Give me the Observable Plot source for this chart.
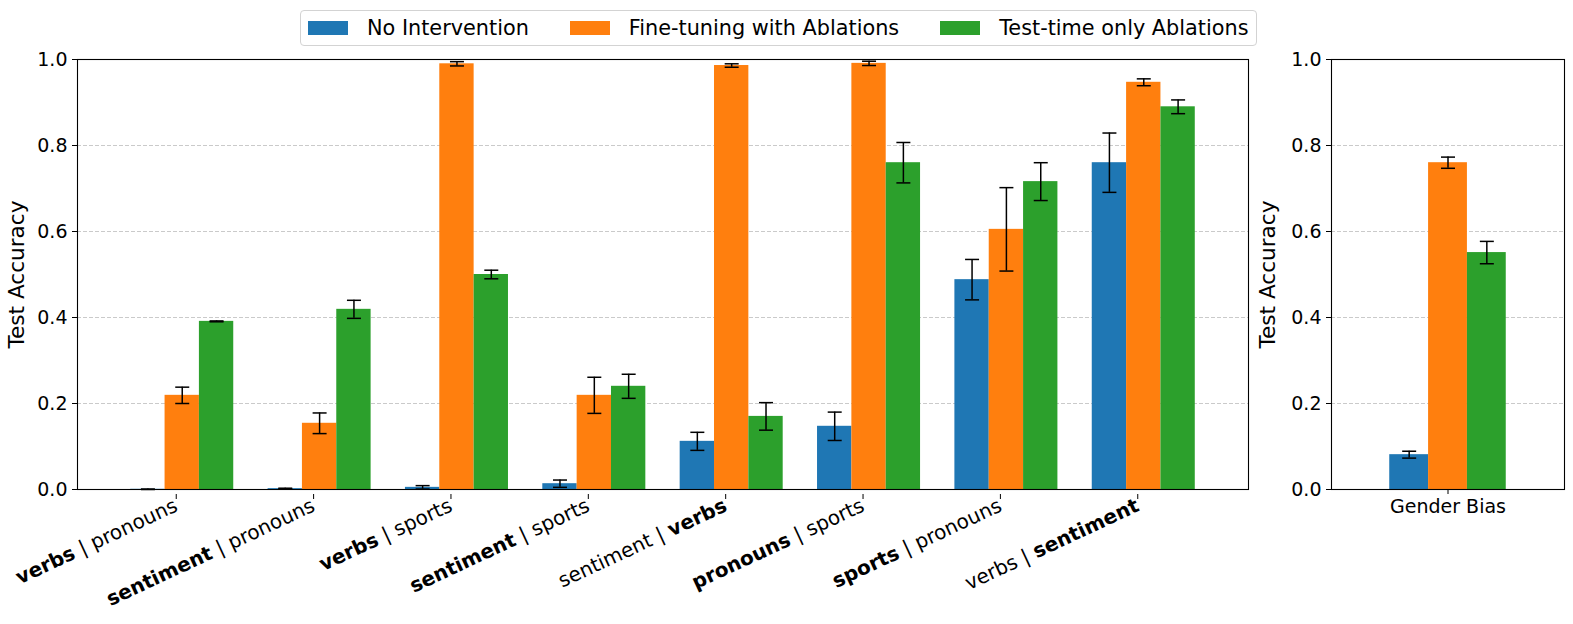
<!DOCTYPE html>
<html><head><meta charset="utf-8">
<script src="https://cdn.jsdelivr.net/npm/d3@7"></script>
<script src="https://cdn.jsdelivr.net/npm/@observablehq/plot@0.6"></script>
<style>
body{margin:0;background:#fff;font-family:"DejaVu Sans",sans-serif;}
#fig{position:relative;width:1573px;height:624px;overflow:hidden;background:#fff}
#legend{position:absolute;left:300px;top:10px;height:36px;box-sizing:border-box;border:1px solid #d3d3d3;border-radius:4px;display:flex;align-items:center;padding:0 8px 0 7px;font-size:20.8px;background:#fff;z-index:2;color:#000}
.item{display:flex;align-items:center;white-space:nowrap}
.item + .item{margin-left:41px}
.sw{width:40px;height:14px;margin-right:19px}
#left{position:absolute;left:0;top:0}
#right{position:absolute;left:1260px;top:0}
svg{font-family:"DejaVu Sans",sans-serif;overflow:visible}
</style></head><body><div id="fig"><div id="legend"></div><div id="left"></div><div id="right"></div></div>
<script>
// ---- data ----
const categories = ["verbs | pronouns", "sentiment | pronouns", "verbs | sports", "sentiment | sports", "sentiment | verbs", "pronouns | sports", "sports | pronouns", "verbs | sentiment"];
const boldPart = [0, 0, 0, 0, 1, 0, 0, 1];
const seriesNames = ["No Intervention", "Fine-tuning with Ablations", "Test-time only Ablations"];
const noIntervention    = [0.0005, 0.002, 0.005, 0.0135, 0.112, 0.147, 0.488, 0.760];
const noInterventionErr = [0.0005, 0.001, 0.004, 0.0085, 0.021, 0.033, 0.047, 0.069];
const fineTuning        = [0.219, 0.154, 0.990, 0.219, 0.986, 0.991, 0.605, 0.947];
const fineTuningErr     = [0.019, 0.024, 0.005, 0.042, 0.004, 0.005, 0.097, 0.008];
const testTime          = [0.391, 0.419, 0.500, 0.240, 0.170, 0.760, 0.716, 0.890];
const testTimeErr       = [0.001, 0.021, 0.010, 0.028, 0.032, 0.047, 0.044, 0.016];
const biasCategories = ["Gender Bias"];
const biasValues = [0.081, 0.760, 0.551];
const biasErr    = [0.008, 0.013, 0.026];
const yTicks = [0, 0.2, 0.4, 0.6, 0.8, 1.0];
const colors = ["#1f77b4", "#ff7f0e", "#2ca02c"];

// ---- build rows ----
const W = 0.25;
const allVals = [noIntervention, fineTuning, testTime];
const allErrs = [noInterventionErr, fineTuningErr, testTimeErr];
const rows = [];
categories.forEach((c, i) => seriesNames.forEach((s, k) => {
  rows.push({cat: c, i, series: s, k, value: allVals[k][i], err: allErrs[k][i]});
}));
const biasRows = seriesNames.map((s, k) => ({cat: biasCategories[0], i: 0, series: s, k, value: biasValues[k], err: biasErr[k]}));
const cx = d => d.i + (d.k - 1) * W;
const capSymbol = {draw(ctx, size) { const r = Math.sqrt(size / Math.PI); ctx.moveTo(-r, 0); ctx.lineTo(r, 0); }};

function marks(data, xTicks, xFormat, rotate, labelOffset) {
  const xAxisOpts = rotate
    ? {ticks: xTicks, tickFormat: xFormat, tickSize: 5, tickPadding: 5, fontSize: 20, tickRotate: rotate, dx: -6, dy: 5, label: null}
    : {ticks: xTicks, tickFormat: xFormat, tickSize: 5, tickPadding: 5, fontSize: 19, label: null};
  return [
    Plot.gridY({ticks: yTicks.slice(1, -1), stroke: "#b0b0b0", strokeOpacity: 0.75, strokeDasharray: "4,2", strokeWidth: 0.9}),
    Plot.rectY(data, {x1: d => cx(d) - W / 2, x2: d => cx(d) + W / 2, y: "value", fill: "series"}),
    Plot.ruleX(data, {x: cx, y1: d => d.value - d.err, y2: d => d.value + d.err, stroke: "black", strokeWidth: 1.5}),
    Plot.dot(data, {x: cx, y: d => d.value - d.err, symbol: capSymbol, r: 7, stroke: "black", strokeWidth: 1.5, fill: "none"}),
    Plot.dot(data, {x: cx, y: d => d.value + d.err, symbol: capSymbol, r: 7, stroke: "black", strokeWidth: 1.5, fill: "none"}),
    Plot.frame({stroke: "black", strokeWidth: 1.1}),
    Plot.axisY({ticks: yTicks, tickFormat: d3.format(".1f"), tickSize: 5, tickPadding: 5, fontSize: 19, label: null}),
    Plot.axisY({ticks: [], tickSize: 0, fontSize: 21.6, label: "Test Accuracy", labelAnchor: "center", labelArrow: "none", labelOffset}),
    Plot.axisX(xAxisOpts)
  ];
}

const common = {
  height: 624, marginTop: 59, marginBottom: 135,
  y: {domain: [0, 1]},
  color: {domain: seriesNames, range: colors},
  style: {fontFamily: "DejaVu Sans", color: "black", background: "white", overflow: "visible"}
};

const left = Plot.plot({
  ...common, width: 1260, marginLeft: 77, marginRight: 12,
  x: {type: "linear", domain: [-0.7625, 7.7625]},
  marks: marks(rows, categories.map((_, i) => i), i => categories[i], -25, 69)
});
const right = Plot.plot({
  ...common, width: 313, marginLeft: 71, marginRight: 9,
  x: {type: "linear", domain: [-0.75, 0.75]},
  marks: marks(biasRows, [0], () => biasCategories[0], 0, 72)
});
document.getElementById("left").appendChild(left);
document.getElementById("right").appendChild(right);

// rich (bold) tick labels
d3.select(left).selectAll('g[aria-label="x-axis tick label"] text').each(function() {
  const t = this.textContent;
  const idx = categories.indexOf(t);
  if (idx < 0) return;
  const parts = t.split(" | ");
  const sel = d3.select(this);
  sel.selectAll("*").remove();
  sel.text(null);
  sel.append("tspan").attr("font-weight", boldPart[idx] === 0 ? "bold" : "normal").text(parts[0]);
  sel.append("tspan").attr("font-weight", "normal").text(" | ");
  sel.append("tspan").attr("font-weight", boldPart[idx] === 1 ? "bold" : "normal").text(parts[1]);
});

// legend
const lg = d3.select("#legend");
seriesNames.forEach((s, k) => {
  const it = lg.append("div").attr("class", "item");
  it.append("div").attr("class", "sw").style("background", colors[k]);
  it.append("span").text(s);
});
</script></body></html>
